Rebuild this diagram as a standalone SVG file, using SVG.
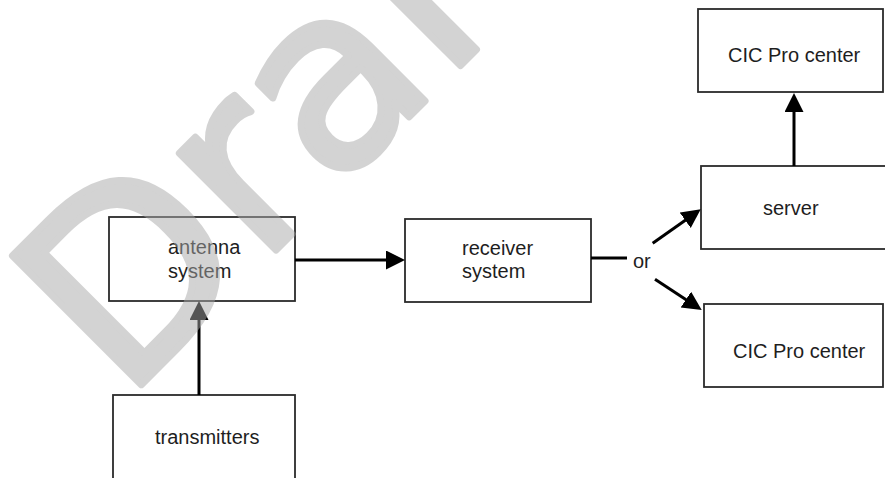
<svg xmlns="http://www.w3.org/2000/svg" width="885" height="478" viewBox="0 0 885 478">
<defs>
<style>
.box{fill:#ffffff;stroke:#2b2b2b;stroke-width:1.8}
.lbl{font-family:"Liberation Sans",Arial,sans-serif;font-size:20px;fill:#1e1e1e}
.conn{stroke:#000;stroke-width:3;fill:none}
.wm{font-family:"DejaVu Sans",sans-serif;font-size:250px;fill:#a8a8a8;stroke:#a8a8a8;stroke-width:7;stroke-linejoin:round}
</style>
<marker id="arr" markerUnits="userSpaceOnUse" markerWidth="20" markerHeight="20" refX="4" refY="9.5" orient="auto">
<path d="M0,0 L19,9.5 L0,19 z" fill="#000"/>
</marker>
</defs>
<rect width="885" height="478" fill="#ffffff"/>
<g id="antenna">
<rect class="box" x="109" y="217" width="186" height="84"/>
<text class="lbl" x="168" y="254">antenna</text>
<text class="lbl" x="168" y="278">system</text>
</g>
<g id="receiver">
<rect class="box" x="405" y="219" width="186" height="83"/>
<text class="lbl" x="462" y="255">receiver</text>
<text class="lbl" x="462" y="278">system</text>
</g>
<g id="server">
<rect class="box" x="701" y="166" width="190" height="83"/>
<text class="lbl" x="763" y="215">server</text>
</g>
<g id="cic-top">
<rect class="box" x="698" y="9" width="185" height="83"/>
<text class="lbl" x="728" y="62">CIC Pro center</text>
</g>
<g id="cic-bottom">
<rect class="box" x="704" y="304" width="179" height="83"/>
<text class="lbl" x="733" y="358">CIC Pro center</text>
</g>
<g id="transmitters">
<rect class="box" x="113" y="395" width="182" height="100"/>
<text class="lbl" x="155" y="444">transmitters</text>
</g>
<g id="or-label">
<text class="lbl" x="633" y="268">or</text>
</g>
<g id="connectors">
<line class="conn" x1="199" y1="395" x2="199" y2="316" marker-end="url(#arr)"/>
<line class="conn" x1="295" y1="260" x2="390" y2="260" marker-end="url(#arr)"/>
<line class="conn" x1="591" y1="258" x2="627" y2="258"/>
<line class="conn" x1="652.7" y1="243.3" x2="688.5" y2="218" marker-end="url(#arr)"/>
<line class="conn" x1="655" y1="279.3" x2="689.2" y2="301.8" marker-end="url(#arr)"/>
<line class="conn" x1="794" y1="166" x2="794" y2="108" marker-end="url(#arr)"/>
</g>
<g id="watermark" opacity="0.5">
<text class="wm" transform="translate(124,402) rotate(-45)">Draft</text>
</g>
</svg>
